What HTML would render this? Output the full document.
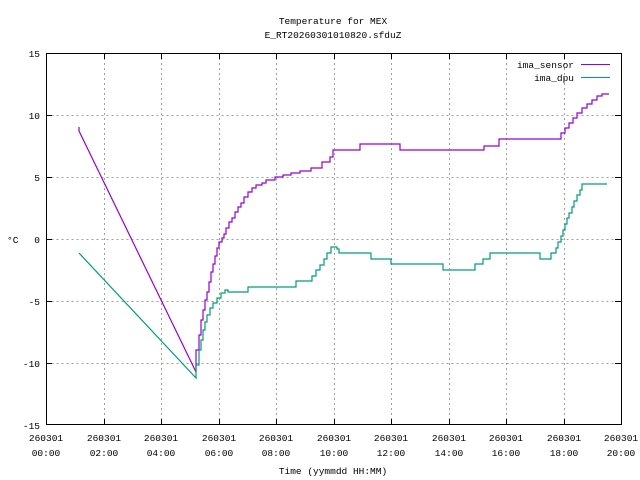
<!DOCTYPE html>
<html><head><style>body{margin:0;background:#fff}svg{display:block}text{font-family:"Liberation Mono",monospace;font-size:9.5px;fill:#000}</style></head>
<body>
<svg width="640" height="480" xmlns="http://www.w3.org/2000/svg">
<g stroke="#a0a0a0" stroke-dasharray="2,3" stroke-width="1">
<path d="M46.5 115.5H621M46.5 177.5H621M46.5 239.5H621M46.5 301.5H621M46.5 363.5H621"/>
<path d="M104.5 53V425M161.5 53V425M219.5 53V425M276.5 53V425M334.5 53V425M391.5 53V425M449.5 53V425M506.5 53V425M564.5 53V425"/>
</g>
<rect x="46.5" y="53.5" width="575" height="371" fill="none" stroke="#000"/>
<g stroke="#000">
<path d="M46 115.5h6M46 177.5h6M46 239.5h6M46 301.5h6M46 363.5h6M621 115.5h-6M621 177.5h-6M621 239.5h-6M621 301.5h-6M621 363.5h-6"/>
<path d="M104.5 425v-6M161.5 425v-6M219.5 425v-6M276.5 425v-6M334.5 425v-6M391.5 425v-6M449.5 425v-6M506.5 425v-6M564.5 425v-6M104.5 53v6M161.5 53v6M219.5 53v6M276.5 53v6M334.5 53v6M391.5 53v6M449.5 53v6M506.5 53v6M564.5 53v6"/>
</g>
<g text-anchor="end">
<text x="40" y="57">15</text><text x="40" y="119">10</text><text x="40" y="181">5</text><text x="40" y="243">0</text><text x="40" y="305">-5</text><text x="40" y="367">-10</text><text x="40" y="429">-15</text>
</g>
<g text-anchor="middle">
<text x="46" y="441">260301</text><text x="46" y="456">00:00</text>
<text x="104" y="441">260301</text><text x="104" y="456">02:00</text>
<text x="161" y="441">260301</text><text x="161" y="456">04:00</text>
<text x="219" y="441">260301</text><text x="219" y="456">06:00</text>
<text x="276" y="441">260301</text><text x="276" y="456">08:00</text>
<text x="334" y="441">260301</text><text x="334" y="456">10:00</text>
<text x="391" y="441">260301</text><text x="391" y="456">12:00</text>
<text x="449" y="441">260301</text><text x="449" y="456">14:00</text>
<text x="506" y="441">260301</text><text x="506" y="456">16:00</text>
<text x="564" y="441">260301</text><text x="564" y="456">18:00</text>
<text x="621" y="441">260301</text><text x="621" y="456">20:00</text>
<text x="333" y="24">Temperature for MEX</text>
<text x="333" y="38">E_RT20260301010820.sfduZ</text>
<text x="333" y="474">Time (yymmdd HH:MM)</text>
</g>
<text x="7" y="243">°C</text>
<text x="574" y="68" text-anchor="end">ima_sensor</text>
<text x="574" y="81" text-anchor="end">ima_dpu</text>
<path d="M581 64.5h29" stroke="#9400d3"/>
<path d="M581 77.5h29" stroke="#009e73"/>
<path fill="none" stroke="#9400d3" stroke-width="1.2" d="M79 127V131L196 372V350H199V335H201V320H203V310H205V300H207V292H209V282H211V272H213V264H215V256H217V248H219V242H222V238H224V234H226V228H229V222H232V218H235V212H238V207H241V203H244V197H248V192H252V188H256V185H262V183H266V180H275V177H283V175H291V173H300V171H311V168H322V162H330V157H333V150H360V144H400V150H484V146H499V139H561V133H565V128H569V123H573V118H577V113H582V108H587V104H592V100H597V96H602V94H609"/>
<path fill="none" stroke="#009e73" stroke-width="1.2" d="M79 253L196 378V365H199V350H201V340H203V330H205V322H207V315H210V308H213V303H217V298H221V293H225V290H228V292H248V287H296V281H312V276H316V270H320V265H324V259H327V253H331V247H337V249H339V253H371V259H391V264H443V270H475V264H483V259H490V253H540V259H551V253H556V248H558V242H561V236H563V230H565V224H567V218H569V213H572V207H574V201H577V195H580V190H582V184H607"/>
</svg>
</body></html>
